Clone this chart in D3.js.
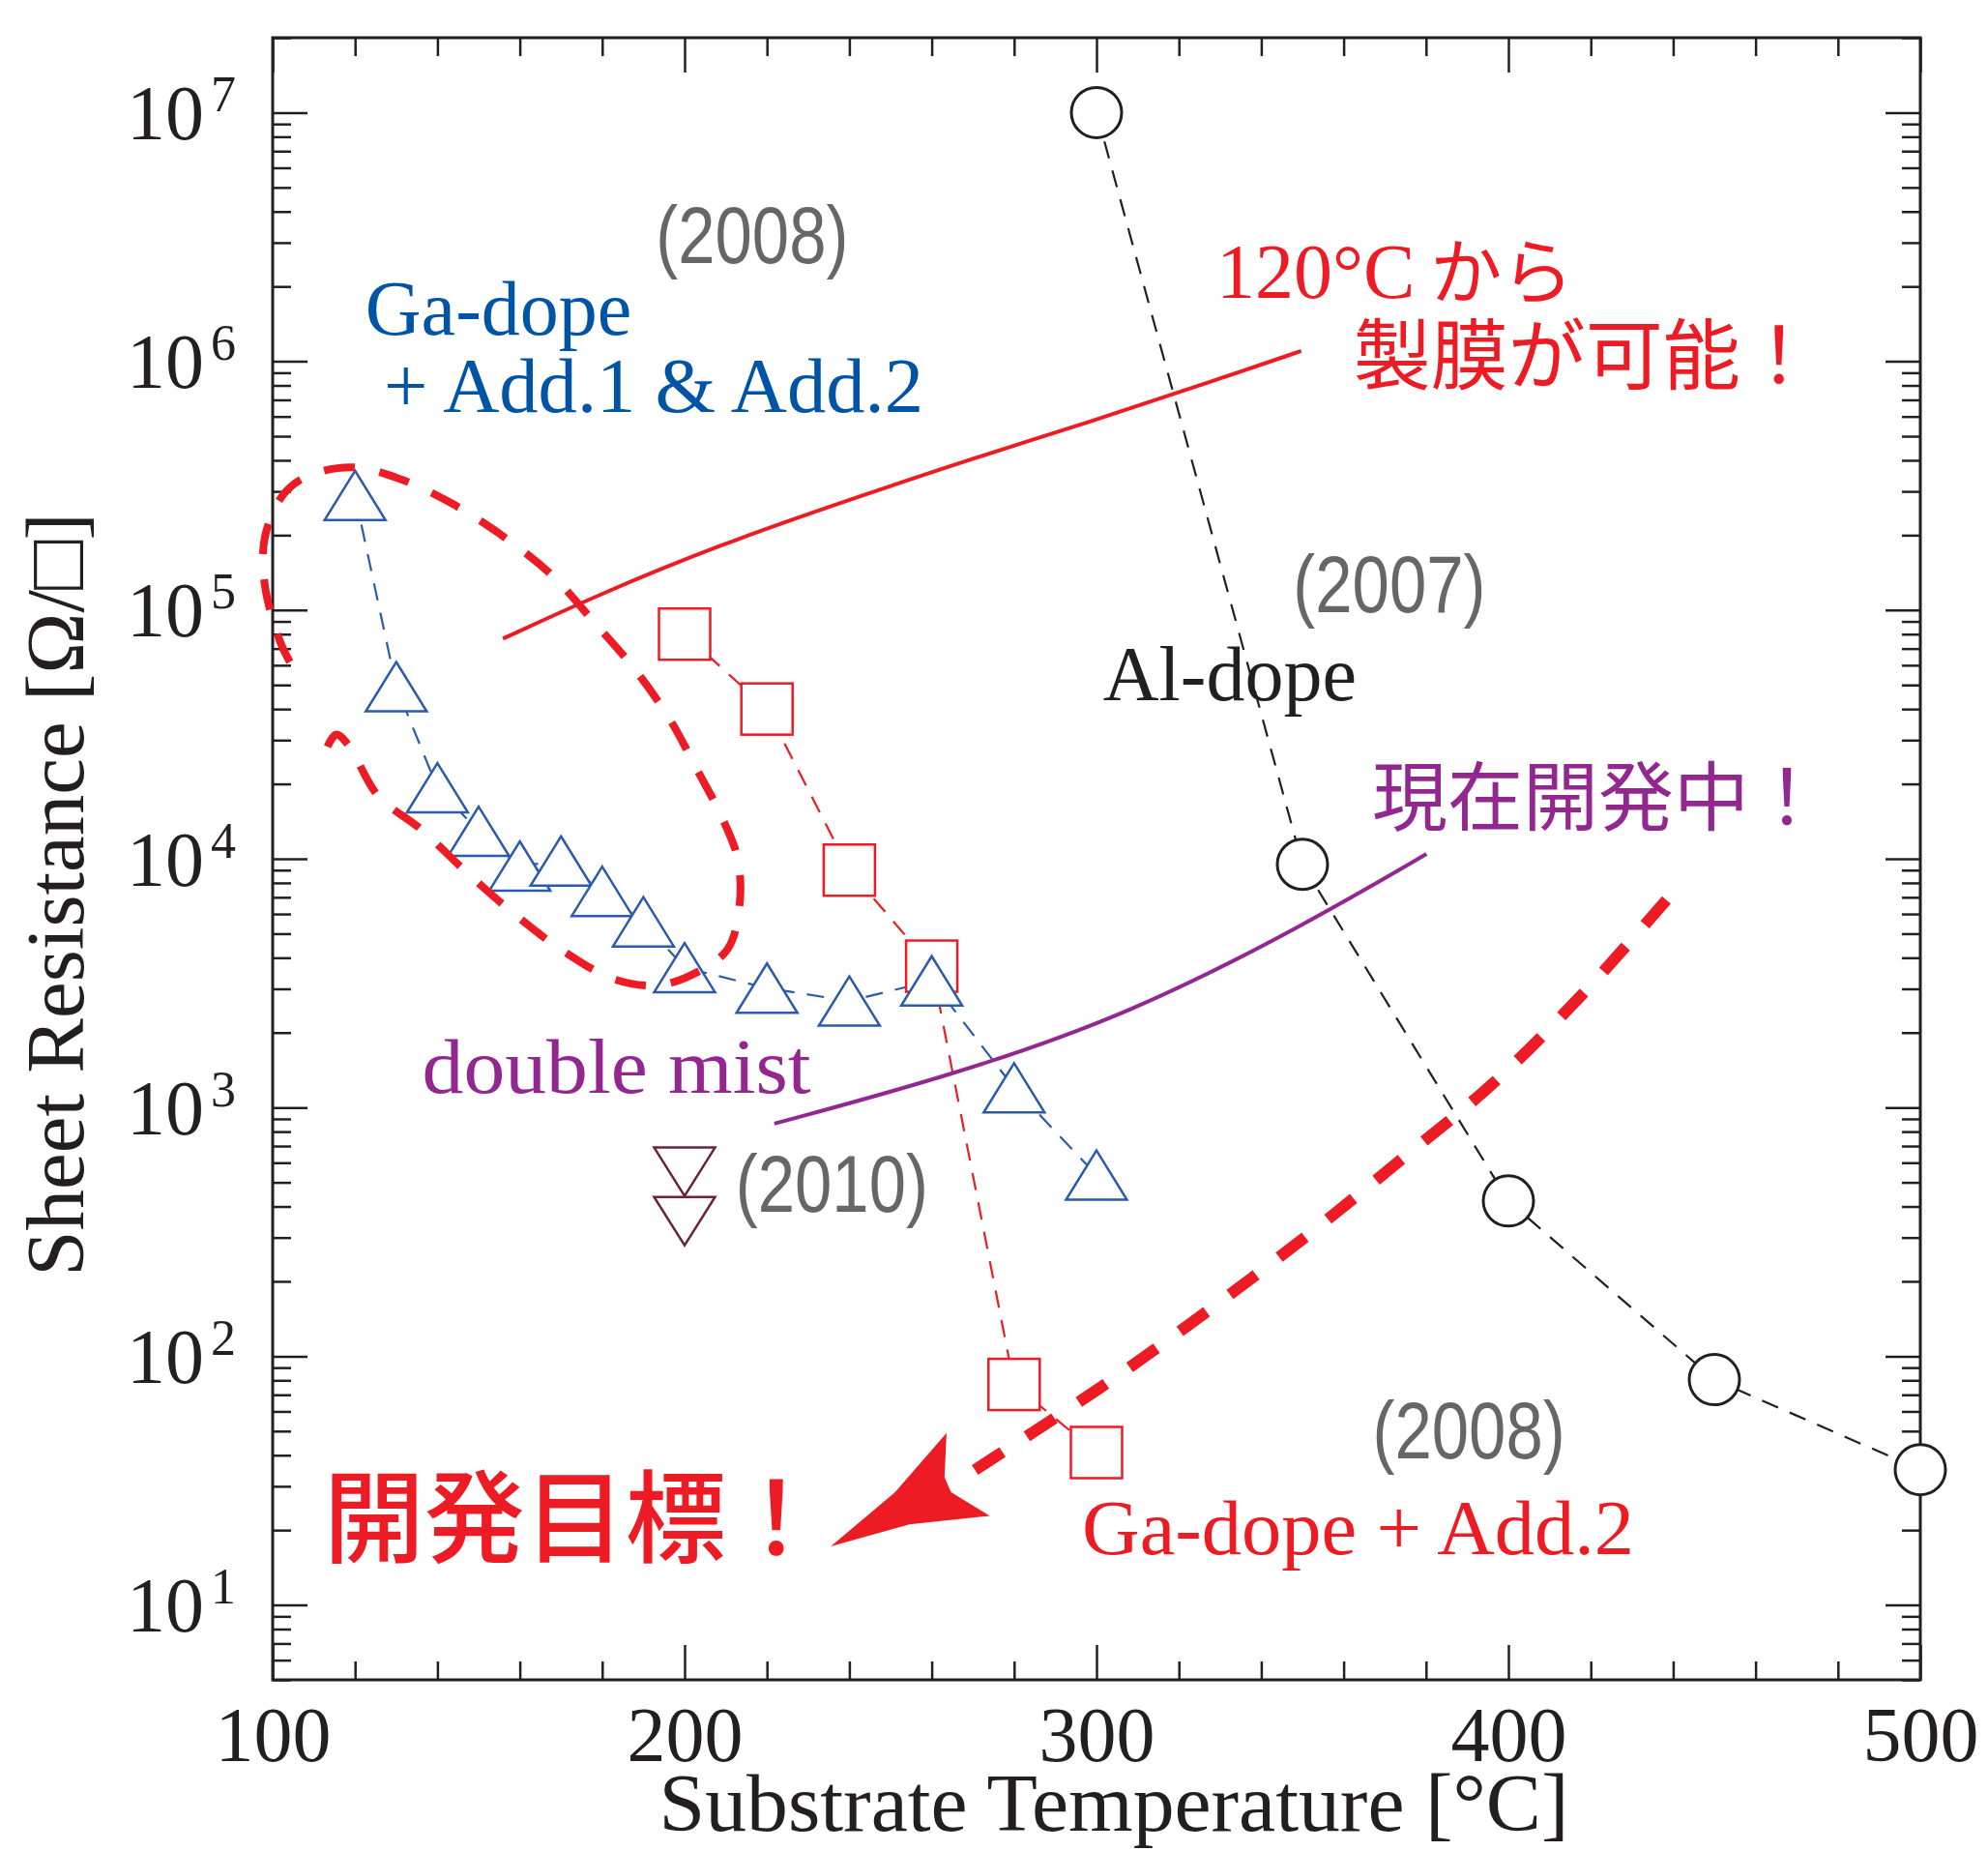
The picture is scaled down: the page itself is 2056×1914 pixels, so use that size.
<!DOCTYPE html>
<html>
<head>
<meta charset="utf-8">
<script src="https://cdn.jsdelivr.net/npm/d3@7"></script>
<style>
  body { margin: 0; background: #fff; }
  svg { display: block; }
</style>
</head>
<body>
<svg id="chart" width="2056" height="1914"></svg>
<script>
// ---- values ----
// Al-dope (2007)
const alTemp = [300, 350, 400, 450, 500];
const alRes  = [1.0e7, 9.5e3, 421, 80.5, 35];

// Ga-dope + Add.2 (2008)
const ga2Temp = [200, 220, 240, 260, 280, 300];
const ga2Res  = [8.0e4, 4.0e4, 9.0e3, 3.7e3, 77, 41];

// Ga-dope + Add.1 & Add.2 (2008)
const ga12Temp = [120, 130, 140, 150, 160, 170, 180, 190, 200, 220, 240, 260, 280, 300];
const ga12Res  = [2.89e5, 4.92e4, 1.93e4, 1.29e4, 9.35e3, 9.8e3, 7.4e3, 5.58e3, 3.65e3, 3.02e3, 2.68e3, 3.23e3, 1.2e3, 535];

// double mist (2010)
const mistTemp = [200, 200];
const mistRes  = [552, 349];

// hand drawn guide curves, [temperature, resistance]
const lowTempCurve = [[155.9, 7.67e4], [178.4, 1.14e5], [208.5, 1.83e5], [238.5, 2.72e5],
  [268.6, 4.01e5], [298.6, 5.71e5], [328.7, 8.39e5], [349.7, 1.10e6]];
const devCurve = [[221.8, 861], [264.8, 1343], [308.1, 2366], [351.3, 5510], [380.1, 1.045e4]];
const targetCurve = [[270.5, 34.9], [301.4, 75.7], [326.5, 150], [350.3, 298], [374.0, 618],
  [397.0, 1282], [418.5, 2917], [438.7, 6934]];
const loopCurve = [[113.3, 2.82e4], [115.4, 3.16e4], [118.3, 2.88e4], [125.6, 1.79e4], [136.1, 1.31e4],
  [147.0, 8.85e3], [158.3, 6.07e3], [170.0, 4.32e3], [182.9, 3.28e3], [193.5, 3.10e3], [202.3, 3.45e3],
  [210.4, 4.32e3], [213.3, 6.40e3], [212.9, 9.98e3], [208.8, 1.50e4], [203.6, 2.19e4], [196.3, 3.66e4],
  [187.8, 5.81e4], [178.1, 8.91e4], [168.0, 1.37e5], [156.3, 1.96e5], [143.7, 2.67e5], [130.4, 3.39e5],
  [119.1, 3.75e5], [108.2, 3.44e5], [102.5, 2.90e5], [98.1, 1.96e5], [98.1, 1.26e5], [102.1, 7.26e4],
  [105.4, 5.71e4]];
const arrowHead = [[235.5, 17.2], [251.1, 28.4], [263.6, 49.1], [263.1, 32.6], [264.7, 28.4],
  [274.1, 22.8], [254.6, 21.1]];

const xTicks = [100, 200, 300, 400, 500];
const yTicks = [1e1, 1e2, 1e3, 1e4, 1e5, 1e6, 1e7];

// ---- setup ----
const svg = d3.select("#chart");
const ink = "#231f20";
const red = "#ed1c24";
const blue = "#2a5caa";
const blueText = "#0054a6";
const purple = "#92278f";
const maroon = "#6d213c";
const grey = "#666666";
const serif = "'Liberation Serif', 'Times New Roman', serif";
const jp = "'Noto Sans CJK JP', sans-serif";

const x = d3.scaleLinear().domain([100, 500]).range([282, 1986]);
const y = d3.scaleLog().domain([5, 2e7]).range([1737, 39]);

const xMinor = d3.range(120, 500, 20).filter(d => d % 100 !== 0);
const yMinor = [];
for (let e = 0; e <= 7; e++) {
  for (let m = 2; m <= 9; m++) {
    const v = m * Math.pow(10, e);
    if (v >= 5 && v <= 2e7) yMinor.push(v);
  }
}

// ---- axes (ticks pointing inwards on all four sides) ----
function styleAxis(g) {
  g.select(".domain").remove();
  g.selectAll(".tick line").attr("stroke", ink).attr("stroke-width", 2.5);
}

svg.append("g").attr("transform", "translate(0,1737)")
  .call(d3.axisBottom(x).tickValues(xTicks).tickSize(-36).tickSizeOuter(0).tickPadding(27).tickFormat(d3.format("d")))
  .call(styleAxis)
  .call(g => g.selectAll("text").attr("font-family", serif).attr("font-size", 80).attr("fill", ink));
svg.append("g").attr("transform", "translate(0,1737)")
  .call(d3.axisBottom(x).tickValues(xMinor).tickSize(-19).tickFormat(""))
  .call(styleAxis);
svg.append("g").attr("transform", "translate(0,39)")
  .call(d3.axisTop(x).tickValues(xTicks).tickSize(-36).tickFormat(""))
  .call(styleAxis);
svg.append("g").attr("transform", "translate(0,39)")
  .call(d3.axisTop(x).tickValues(xMinor).tickSize(-19).tickFormat(""))
  .call(styleAxis);

const leftAxis = svg.append("g").attr("transform", "translate(282,0)")
  .call(d3.axisLeft(y).tickValues(yTicks).tickSize(-36).tickFormat(""))
  .call(styleAxis);
svg.append("g").attr("transform", "translate(282,0)")
  .call(d3.axisLeft(y).tickValues(yMinor).tickSize(-19).tickFormat(""))
  .call(styleAxis);
svg.append("g").attr("transform", "translate(1986,0)")
  .call(d3.axisRight(y).tickValues(yTicks).tickSize(-36).tickFormat(""))
  .call(styleAxis);
svg.append("g").attr("transform", "translate(1986,0)")
  .call(d3.axisRight(y).tickValues(yMinor).tickSize(-19).tickFormat(""))
  .call(styleAxis);

// 10^n labels
leftAxis.selectAll(".tick").each(function(d) {
  const t = d3.select(this);
  t.append("text").text("10")
    .attr("x", -71).attr("y", 27)
    .attr("text-anchor", "end")
    .attr("font-family", serif).attr("font-size", 80).attr("fill", ink);
  t.append("text").text(Math.round(Math.log10(d)))
    .attr("x", -64).attr("y", -2)
    .attr("text-anchor", "start")
    .attr("font-family", serif).attr("font-size", 52).attr("fill", ink);
});

// frame
svg.append("rect")
  .attr("x", x(100)).attr("y", y(2e7))
  .attr("width", x(500) - x(100)).attr("height", y(5) - y(2e7))
  .attr("fill", "none").attr("stroke", ink).attr("stroke-width", 3);

// axis titles
svg.append("text")
  .attr("x", 1152).attr("y", 1893)
  .attr("text-anchor", "middle")
  .attr("font-family", serif).attr("font-size", 85).attr("fill", ink)
  .attr("textLength", 941).attr("lengthAdjust", "spacingAndGlyphs")
  .text("Substrate Temperature [°C]");
svg.append("text")
  .attr("transform", `translate(86,925) rotate(-90)`)
  .attr("text-anchor", "middle")
  .attr("font-family", serif).attr("font-size", 85).attr("fill", ink)
  .text("Sheet Resistance [Ω/□]");

// ---- dashed connecting lines ----
const line = d3.line().x(d => x(d[0])).y(d => y(d[1]));
const lines = svg.append("g").attr("fill", "none").attr("stroke-width", 2.2);
lines.append("path").attr("d", line(d3.zip(alTemp, alRes)))
  .attr("stroke", ink).attr("stroke-dasharray", "18,13");
lines.append("path").attr("d", line(d3.zip(ga2Temp, ga2Res)))
  .attr("stroke", red).attr("stroke-dasharray", "18,13");
lines.append("path").attr("d", line(d3.zip(ga12Temp, ga12Res)))
  .attr("stroke", blue).attr("stroke-dasharray", "18,13");

// ---- markers ----
const sq = 53, tw = 63, th = 51;
svg.append("g").selectAll("rect")
  .data(d3.zip(ga2Temp, ga2Res)).join("rect")
  .attr("x", d => x(d[0]) - sq / 2).attr("y", d => y(d[1]) - sq / 2)
  .attr("width", sq).attr("height", sq)
  .attr("fill", "#fff").attr("stroke", red).attr("stroke-width", 2.5);

svg.append("g").selectAll("circle")
  .data(d3.zip(alTemp, alRes)).join("circle")
  .attr("cx", d => x(d[0])).attr("cy", d => y(d[1])).attr("r", 26)
  .attr("fill", "#fff").attr("stroke", ink).attr("stroke-width", 3);

const triUp = (cx, cy) => `M${cx},${cy - th / 2}L${cx + tw / 2},${cy + th / 2}L${cx - tw / 2},${cy + th / 2}Z`;
const triDown = (cx, cy) => `M${cx - tw / 2},${cy - 25}L${cx + tw / 2},${cy - 25}L${cx},${cy + 25}Z`;

svg.append("g").selectAll("path")
  .data(d3.zip(ga12Temp, ga12Res)).join("path")
  .attr("d", d => triUp(x(d[0]), y(d[1])))
  .attr("fill", "#fff").attr("stroke", blue).attr("stroke-width", 2.5);

svg.append("g").selectAll("path")
  .data(d3.zip(mistTemp, mistRes)).join("path")
  .attr("d", d => triDown(x(d[0]), y(d[1])))
  .attr("fill", "none").attr("stroke", maroon).attr("stroke-width", 2.5);

// ---- guide curves ----
const smooth = d3.line().curve(d3.curveCatmullRom.alpha(0.5)).x(d => x(d[0])).y(d => y(d[1]));
const soft = d3.line().curve(d3.curveBasis).x(d => x(d[0])).y(d => y(d[1]));
svg.append("path").attr("d", soft(lowTempCurve))
  .attr("fill", "none").attr("stroke", red).attr("stroke-width", 4);
svg.append("path").attr("d", soft(devCurve))
  .attr("fill", "none").attr("stroke", purple).attr("stroke-width", 4);
svg.append("path").attr("d", smooth(loopCurve))
  .attr("fill", "none").attr("stroke", red).attr("stroke-width", 8)
  .attr("stroke-dasharray", "32,26");
svg.append("path").attr("d", smooth(targetCurve))
  .attr("fill", "none").attr("stroke", red).attr("stroke-width", 12)
  .attr("stroke-dasharray", "34,30");
svg.append("path")
  .attr("d", d3.line().x(d => x(d[0])).y(d => y(d[1])).curve(d3.curveLinearClosed)(arrowHead))
  .attr("fill", red);

// ---- labels ----
function label(txt, T, R, color, opts = {}) {
  const t = svg.append("text")
    .attr("x", x(T)).attr("y", y(R))
    .attr("text-anchor", opts.anchor || "start")
    .attr("font-family", opts.font || serif)
    .attr("font-size", opts.size || 80)
    .attr("font-weight", opts.weight || "normal")
    .attr("fill", color)
    .text(txt);
  if (opts.length) t.attr("textLength", opts.length).attr("lengthAdjust", "spacingAndGlyphs");
  return t;
}
function year(txt, T, R, anchor) {
  svg.append("text")
    .attr("transform", `translate(${x(T)},${y(R)}) scale(0.82,1)`)
    .attr("text-anchor", anchor)
    .attr("font-family", "'Liberation Sans', Arial, sans-serif")
    .attr("font-size", 84)
    .attr("fill", grey)
    .text(txt);
}

year("(2008)", 216.4, 2.49e6, "middle");
label("Ga-dope", 122.5, 1.28e6, blueText);
label("+ Add.1 & Add.2", 127.0, 6.27e5, blueText, { length: 558 });

const kara = label("120°C", 329.1, 1.8e6, red);
kara.append("tspan").attr("dx", 16).attr("font-family", jp).attr("font-size", 74).text("から");
label("製膜が可能！", 362.4, 8.2e5, red, { font: jp, size: 80 });

year("(2007)", 371.1, 9.8e4, "middle");
label("Al-dope", 301.6, 4.34e4, ink);
label("現在開発中！", 366.9, 1.37e4, purple, { font: jp, size: 78 });

label("double mist", 136.3, 1.15e3, purple, { length: 402 });
year("(2010)", 212.4, 381, "start");

year("(2008)", 390.4, 38.8, "middle");
label("Ga-dope + Add.2", 296.5, 16.0, red, { length: 571 });
label("開発目標！", 112.4, 15.9, red, { font: jp, size: 104, weight: 500 });
</script>
</body>
</html>
